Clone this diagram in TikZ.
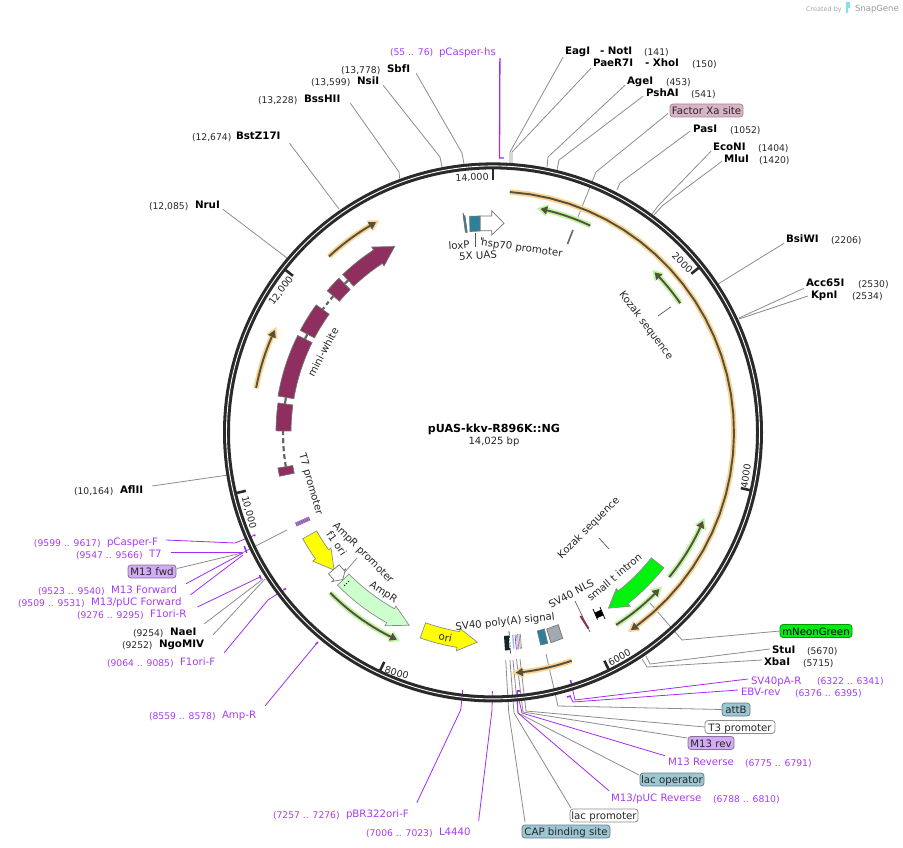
\documentclass[tikz,border=0pt]{standalone}
\usepackage{fontspec}
\setmainfont{DejaVu Sans}
\definecolor{ringc}{HTML}{2A2A2A}
\definecolor{graycon}{HTML}{8C8C8C}
\definecolor{purp}{HTML}{A63BF2}
\definecolor{purpl}{HTML}{A22CF0}
\definecolor{haloO}{HTML}{FBD490}
\definecolor{haloG}{HTML}{BFF5A0}
\definecolor{coreD}{HTML}{55503F}
\definecolor{maroon}{HTML}{8F2F60}
\definecolor{blueb}{HTML}{9CC6D2}
\definecolor{pinkb}{HTML}{D9B3C6}
\definecolor{purb}{HTML}{D3ABF2}
\definecolor{teal}{HTML}{2E7F9A}
\definecolor{grayb}{HTML}{A3A9B1}
\definecolor{yelb}{HTML}{FFFF00}
\tikzset{
 x=1pt,y=-1pt,
 every node/.style={inner sep=0pt,outer sep=0pt,text height=9.5pt,text depth=1pt},
 enzn/.style={anchor=west,font=\fontsize{10.3}{12}\selectfont\bfseries,text=black},
 posn/.style={anchor=west,font=\fontsize{9.2}{11}\selectfont,text=black!85},
 prim/.style={anchor=west,font=\fontsize{10.2}{12}\selectfont,text=purp},
 ppos/.style={anchor=west,font=\fontsize{9.2}{11}\selectfont,text=purp},
 lab/.style={font=\fontsize{10.2}{12}\selectfont,text=black!85},
 tickl/.style={font=\fontsize{9.5}{11}\selectfont,text=black!85},
 boxn/.style={font=\fontsize{10.2}{12}\selectfont,text=black!85,rounded corners=3pt,draw,minimum height=13pt,line width=.8pt},
 gc/.style={draw=graycon,line width=.8pt},
 pc/.style={draw=purpl,line width=.8pt},
 dc/.style={draw=black!65,line width=.7pt},
 feat/.style={draw=black!55,line width=.7pt},
 ptick/.style={draw=purpl,line width=1.6pt},
}
\newcommand\cona[5]{\coordinate (#2-bend) at (#4);\coordinate (#2-end) at (#5);\draw[#1] (#3) -- (#2-bend) -- (#2-end);}
\newcommand\conb[4]{\coordinate (#2-end) at (#4);\draw[#1] (#3) -- (#2-end);}
\newcommand\arcbox[5][]{\draw[feat,fill=maroon,#1] plot[domain=#2:#3,samples=12] ({\x-90}:#4) -- plot[domain=#3:#2,samples=12] ({\x-90}:#5) -- cycle;}
\newcommand\arcarr[4][]{\draw[feat,#1] plot[domain=#2:#3,samples=16] ({\x-90}:202) -- ({#3-90}:199) -- ({#4-90}:210.3) -- ({#3-90}:221.5) -- plot[domain=#3:#2,samples=16] ({\x-90}:218) -- cycle;}
\newcommand\band[4]{%
 \pgfmathsetmacro{\hb}{#3-2.6*sign(#3-#2)}%
 \pgfmathsetmacro{\hc}{#3-0.9*sign(#3-#2)}%
 \draw[line width=5.5pt,#1] plot[domain=#2:\hb,samples=30] ({\x-90}:#4);
 \fill[#1] ({\hb-90}:#4-6.2) -- ({#3-90}:#4) -- ({\hb-90}:#4+6.2) -- cycle;
 \draw[line width=1.9pt,coreD] plot[domain=#2:\hb,samples=30] ({\x-90}:#4);
 \fill[coreD] ({\hb-90}:#4-4.3) -- ({\hc-90}:#4) -- ({\hb-90}:#4+4.3) -- cycle;
}
\newcommand\tickm[2]{\draw[ringc,line width=2.6pt] ({#1-90}:#2) -- ({#1-90}:#2-10);}
\begin{document}
\begin{tikzpicture}
\useasboundingbox (0,0) rectangle (903,848);

% logo
\node[anchor=west,font=\fontsize{6.5}{8}\selectfont,text=black!35] (logoA) at (806,7) {Created by};
\node[anchor=west,font=\fontsize{8.5}{10}\selectfont,text=black!40] (logoB) at (855,7) {SnapGene};
\fill[blueb!70!cyan!80] (846,2) rectangle (850,8) (846,8) rectangle (848,13);

% ---- restriction sites, top / right
\node[enzn] (EagI) at (565,50) {EagI};
\node[enzn] (NotI) at (600,50) {- NotI};
\node[posn] (p141) at (644,51) {(141)};
\node[enzn] (PaeR) at (593,62) {PaeR7I};
\node[enzn] (XhoI) at (645,62) {- XhoI};
\node[posn] (p150) at (692,63) {(150)};
\node[enzn] (AgeI) at (627,80) {AgeI};
\node[posn] (p453) at (666,81) {(453)};
\node[enzn] (PshAI) at (646,92) {PshAI};
\node[posn] (p541) at (691,93) {(541)};
\node[boxn,fill=pinkb,draw=pinkb!75!black,minimum width=73pt] (FXa) at (706.5,110.5) {Factor Xa site};
\node[enzn] (PasI) at (693,128) {PasI};
\node[posn] (p1052) at (730,129) {(1052)};
\node[enzn] (EcoNI) at (713,146) {EcoNI};
\node[posn] (p1404) at (758,147) {(1404)};
\node[enzn] (MluI) at (724,158) {MluI};
\node[posn] (p1420) at (759,159) {(1420)};
\node[enzn] (BsiWI) at (786,238) {BsiWI};
\node[posn] (p2206) at (831,239) {(2206)};
\node[enzn] (Acc) at (806,282) {Acc65I};
\node[posn] (p2530) at (858,283) {(2530)};
\node[enzn] (KpnI) at (811,294) {KpnI};
\node[posn] (p2534) at (852,295) {(2534)};
\node[boxn,fill=green!93!blue,draw=green!60!black,minimum width=72pt,text=black] (mNG) at (816,631) {mNeonGreen};
\node[enzn] (StuI) at (772,649) {StuI};
\node[posn] (p5670) at (807,650) {(5670)};
\node[enzn] (XbaI) at (764,661) {XbaI};
\node[posn] (p5715) at (803,662) {(5715)};
\node[prim] (SVpA) at (751,680) {SV40pA-R};
\node[ppos] (pSVpA) at (817,680) {(6322 .. 6341)};
\node[prim] (EBV) at (741,691) {EBV-rev};
\node[ppos] (pEBV) at (795,692) {(6376 .. 6395)};
\node[boxn,fill=blueb,draw=blueb!65!black,minimum width=28pt] (attB) at (736,709.5) {attB};
\node[boxn,fill=white,draw=black!45,minimum width=70pt] (T3) at (740,727) {T3 promoter};
\node[boxn,fill=purb,draw=purb!65!black,minimum width=46pt] (M13r) at (711,743) {M13 rev};
\node[prim] (M13R) at (668,761) {M13 Reverse};
\node[ppos] (pM13R) at (745,762) {(6775 .. 6791)};
\node[boxn,fill=blueb,draw=blueb!65!black,minimum width=64pt] (lacO) at (672,779.5) {lac operator};
\node[prim] (M13pR) at (611,797) {M13/pUC Reverse};
\node[ppos] (pM13pR) at (713,798) {(6788 .. 6810)};
\node[boxn,fill=white,draw=black!45,minimum width=68pt] (lacP) at (604,815.5) {lac promoter};
\node[boxn,fill=blueb,draw=blueb!65!black,minimum width=88pt] (CAP) at (566,831.5) {CAP binding site};
\node[prim] (L4440) at (439,831) {L4440};
\node[ppos] (pL4440) at (366,832) {(7006 .. 7023)};
\node[prim] (pBRF) at (346,813) {pBR322ori-F};
\node[ppos] (ppBRF) at (273,814) {(7257 .. 7276)};
\node[prim] (AmpRp) at (222,714) {Amp-R};
\node[ppos] (pAmpRp) at (149,715) {(8559 .. 8578)};
\node[prim] (F1F) at (180,661) {F1ori-F};
\node[ppos] (pF1F) at (107,662) {(9064 .. 9085)};
\node[enzn] (Ngo) at (159,643) {NgoMIV};
\node[posn] (p9252) at (122,644) {(9252)};
\node[enzn] (NaeI) at (170,631) {NaeI};
\node[posn] (p9254) at (133,632) {(9254)};
\node[prim] (F1R) at (150,613) {F1ori-R};
\node[ppos] (pF1R) at (77,614) {(9276 .. 9295)};
\node[prim] (M13pF) at (91,601) {M13/pUC Forward};
\node[ppos] (pM13pF) at (18,602) {(9509 .. 9531)};
\node[prim] (M13F) at (111,589) {M13 Forward};
\node[ppos] (pM13F) at (38,590) {(9523 .. 9540)};
\node[boxn,fill=purb,draw=purb!65!black,minimum width=48pt] (M13f) at (152,571.5) {M13 fwd};
\node[prim] (T7p) at (149,553) {T7};
\node[ppos] (pT7p) at (76,554) {(9547 .. 9566)};
\node[prim] (pCF) at (107,541) {pCasper-F};
\node[ppos] (ppCF) at (34,542) {(9599 .. 9617)};
\node[enzn] (AflII) at (120,489) {AflII};
\node[posn] (p10164) at (74,490) {(10,164)};
\node[enzn] (NruI) at (195,204) {NruI};
\node[posn] (p12085) at (149,205) {(12,085)};
\node[enzn] (BstZ) at (236,135) {BstZ17I};
\node[posn] (p12674) at (192,136) {(12,674)};
\node[enzn] (BssH) at (304,98) {BssHII};
\node[posn] (p13228) at (258,99) {(13,228)};
\node[enzn] (NsiI) at (357,80) {NsiI};
\node[posn] (p13599) at (311,81) {(13,599)};
\node[enzn] (SbfI) at (387,68) {SbfI};
\node[posn] (p13778) at (341,69) {(13,778)};
\node[prim] (pCh) at (439,51) {pCasper-hs};
\node[ppos] (ppCh) at (390,51) {(55 .. 76)};

% ---- connectors
\cona{gc}{cEag}{[shift={(-2,2)}]EagI.south west}{510,152}{510,163}
\cona{gc}{cPae}{[shift={(-2,1)}]PaeR.south west}{512,152}{512,163}
\cona{gc}{cAge}{[shift={(-2,0)}]AgeI.south west}{548,157}{547,167}
\cona{gc}{cPsh}{[shift={(-3,-1)}]PshAI.south west}{559,160}{557,170}
\cona{gc}{cFXa}{[shift={(-2,3)}]FXa.west}{596,172}{578,217}
\cona{gc}{cPas}{[shift={(-3,-2)}]PasI.south west}{620,183}{617,190}
\cona{gc}{cEco}{[shift={(-2,0)}]EcoNI.south west}{658,206}{652,214}
\cona{gc}{cMlu}{[shift={(-2,-2)}]MluI.south west}{662,206}{654,215}
\conb{gc}{cBsi}{[shift={(-2,0)}]BsiWI.south west}{718,284}
\conb{gc}{cAcc}{[shift={(-2,1)}]Acc.south west}{739,318}
\conb{gc}{cKpn}{[shift={(-3,2)}]KpnI.west}{739,319}
\cona{gc}{cmNG}{mNG.west}{682,640}{650,603}
\cona{gc}{cStu}{[shift={(-2,0)}]StuI.west}{650,664}{646,656}
\cona{gc}{cXba}{[shift={(-2,-1)}]XbaI.west}{647,667}{642,659}
\cona{gc}{cattB}{attB.west}{558,706}{546,654}
\cona{gc}{cT3}{T3.west}{526,711}{520,659}
\cona{gc}{cM13r}{[shift={(-1,-5)}]M13r.west}{523,712}{516.5,659}
\cona{gc}{clacO}{[shift={(-1,2)}]lacO.north west}{518,713}{513,660}
\cona{gc}{clacP}{[shift={(1,-1)}]lacP.north west}{514,713}{510,660}
\cona{gc}{cCAP}{[shift={(3,-3)}]CAP.north west}{508.7,712}{505.7,660}
\cona{gc}{cM13f}{[shift={(1,-3)}]M13f.east}{242,553}{287,530}
\conb{gc}{cNae}{[shift={(8,-2)}]NaeI.north east}{263,579}
\conb{gc}{cNgo}{[shift={(9,-3)}]Ngo.north east}{265,579}
\conb{gc}{cAfl}{[shift={(9,-3)}]AflII.east}{228,475}
\conb{gc}{cNru}{[shift={(3,0)}]NruI.south east}{287,258}
\conb{gc}{cBst}{[shift={(9,3)}]BstZ.south east}{339,209}
\cona{gc}{cBss}{[shift={(10,0)}]BssH.south east}{399,172}{400,181}
\cona{gc}{cNsi}{[shift={(4,0)}]NsiI.south east}{440,157}{442,167}
\cona{gc}{cSbf}{[shift={(6,0)}]SbfI.south east}{462,153}{464,164}

\cona{pc,line width=1.3pt}{cpCh}{[shift={(4,2)}]pCh.south east}{499.5,158}{504,158}
\cona{pc}{cSV}{[shift={(-3,-1)}]SVpA.west}{575,700}{571,682}
\cona{pc}{cEB}{[shift={(-3,-1)}]EBV.west}{573,702}{570,696}
\cona{pc}{cM1}{[shift={(-3,0)}]M13R.north west}{522,713}{517,691}
\cona{pc}{cM2}{[shift={(-2,-1)}]M13pR.north west}{518,713}{517,691}
\cona{pc}{cL4}{[shift={(8,-5)}]L4440.north east}{492,710}{492.3,692}
\cona{pc}{cpB}{[shift={(8,-5)}]pBRF.north east}{460.7,710}{462.7,691}
\conb{pc}{cAm}{[shift={(9,-3)}]AmpRp.north east}{317,643}
\cona{pc}{cF1F}{[shift={(9,-3)}]F1F.north east}{268,600}{285,589}
\conb{pc}{cF1R}{[shift={(11,-6)}]F1R.east}{260,577}
\conb{pc}{cMpF}{[shift={(9,-1)}]M13pF.north east}{243,555}
\conb{pc}{cM1F}{[shift={(9,0)}]M13F.north east}{243,553}
\conb{pc}{cT7}{[shift={(9,-1)}]T7p.east}{242,552}
\cona{pc}{cpCF}{[shift={(8,-1)}]pCF.east}{235,543}{255,535}

% purple end marks
\draw[ptick] (516.5,691) -- (520,691);
\draw[ptick] (567,697) -- (571,696);
\draw[ptick] (570.6,680) -- (571,683);
\draw[ptick] (491.5,692) -- (493,692);
\draw[ptick] (462,691) -- (463.4,691);
\draw[ptick] (316,644) -- (318,642);
\draw[ptick] (284,589.5) -- (286,588.5);
\draw[ptick] (259.5,575) -- (261,579);
\draw[ptick] (244.3,546) -- (246.7,553);
\draw[ptick] (253.5,535) -- (255.5,535.7);

% ---- ring
\begin{scope}[shift={(493,432.4)}]
\draw[ringc,line width=7pt] (0,0) circle (266.5pt);
\draw[white,line width=.9pt] (0,0) circle (266.5pt);
\draw[ringc,line width=2.8pt] (0,-264.5) -- (0,-252);
\tickm{51.34}{264}
\tickm{102.67}{264}
\tickm{154}{264}
\tickm{205.35}{264}
\tickm{256.7}{264}
\tickm{308.05}{264}

% ---- orange / green bands
\band{haloO}{4}{146}{241}
\band{haloO}{161}{175.5}{241.5}
\band{haloO}{280.6}{296}{241}
\band{haloO}{317}{331.8}{240.5}
\band{haloG}{25.2}{11.1}{228.5}
\band{haloG}{55.4}{44.4}{227.5}
\band{haloG}{129.4}{112}{228}
\band{haloG}{147.4}{132.4}{228.5}
\band{haloG}{225.4}{204}{228.5}

% ---- mini-white
\draw[black!60,line width=2.2pt,dash pattern=on 5pt off 3pt] plot[domain=260.5:270.5,samples=8] ({\x-90}:210);
\draw[black!60,line width=2.2pt] plot[domain=277:280,samples=4] ({\x-90}:210);
\draw[black!60,line width=2.2pt] plot[domain=296:298.5,samples=4] ({\x-90}:210);
\draw[black!60,line width=2.2pt,dash pattern=on 4pt off 3pt] plot[domain=305.5:310.8,samples=6] ({\x-90}:210);
\draw[black!60,line width=2.2pt] plot[domain=314.5:316.8,samples=4] ({\x-90}:210);
\arcbox{258.4}{260.6}{203}{218}
\arcbox{270.4}{277.8}{202}{217}
\arcbox{279.6}{296.4}{202}{218}
\arcbox{297.9}{305.8}{202}{218}
\arcbox{310.5}{315}{202}{218}
\arcarr[fill=maroon]{316.4}{326.8}{332.1}
\arcarr[fill=green!20,draw=black!45]{225.5}{209.2}{203.5}
\arcarr[fill=yelb,draw=black!45]{240.8}{234.5}{229.1}
\arcarr[fill=yelb,draw=black!45]{199.5}{189.5}{184.3}
\arcarr[fill=green!95!blue,draw=black!45]{128.4}{141.7}{146.7}
\draw[feat,fill=white] plot[domain=229.3:227.2,samples=4] ({\x-90}:203) -- ({227.2-90}:201) -- ({225.6-90}:210.3) -- ({227.2-90}:219.5) -- plot[domain=227.2:229.3,samples=4] ({\x-90}:217) -- cycle;
\end{scope}

% dots in AmpR tail
\fill[black] (344.7,585.3) circle (.7pt) (346.5,583.5) circle (.7pt) (348.5,581.5) circle (.7pt);

% Factor Xa stub, feature connectors
\coordinate (sXa1) at (573,230);\coordinate (sXa2) at (567.5,244);
\draw[black!60,line width=1.6pt] (sXa1) -- (sXa2);
\coordinate (cPr1) at (345,572);\coordinate (cPr2) at (357,558);
\draw[gc] (cPr1) -- (cPr2);

% M13 fwd feature
\coordinate (m1) at (296,524.5);\coordinate (m2) at (309.5,518.5);
\draw[purpl!70,line width=4pt] (m1) -- (m2);
\draw[black!55,line width=4pt,dash pattern=on .8pt off 1.2pt] (m1) -- (m2);

% top-left cassette
\draw[feat,fill=white] (480,216) -- (491.7,216) -- (491.7,210.7) -- (504,223.3) -- (491.7,235) -- (491.7,230.7) -- (480,230.7) -- cycle;
\draw[feat,fill=teal] (469.6,216.3) -- (480,216) -- (480,231) -- (470,231.5) -- cycle;
\draw[black!70,line width=.8pt] (463,213) -- (467,233);
\draw[feat,fill=teal] (463.2,216) -- (465,215.7) -- (467.2,232) -- (465.4,232.3) -- cycle;
\draw[dc] (475.7,233) -- (475.7,247);
\draw[dc] (481,237) -- (481,240);

% SV40 poly(A) stack
\draw[black!65,line width=.8pt] (509,631) -- (510.5,653.5);
\fill[black!70!teal] (504,636) -- (509,635.5) -- (510,650) -- (505,650.5) -- cycle;
\fill[white] (509,638) -- (511.5,638) -- (512,648) -- (509.5,648) -- cycle;
\fill[black!70] (509.5,640) circle (.6pt) (510,643) circle (.6pt) (510.3,646) circle (.6pt);
\draw[blueb,line width=1.4pt] (512.7,634.5) -- (513.8,648.5);
\draw[purpl,line width=.7pt] (515,634.5) -- (516.4,649.5);
\draw[purpl!50,line width=.7pt] (516.3,634.5) -- (517.6,649.5);
\draw[black!45,line width=.7pt] (517.5,634) -- (518.8,649);
\draw[black!45,line width=.7pt] (519,634) -- (520.3,649);
\draw[black!45,line width=.7pt] (520.3,634) -- (521.5,648.5);

% blue + gray boxes
\draw[feat,fill=teal] (537.3,631) -- (544.3,629) -- (547.7,643.3) -- (540.7,645) -- cycle;
\draw[feat,fill=grayb] (546.7,629) -- (558.3,624.7) -- (562.7,638.3) -- (551,642.7) -- cycle;

% SV40 NLS sliver
\draw[black!60,line width=.7pt] (575,601) -- (590,632);
\draw[maroon,line width=2pt] (580.5,616) -- (588.5,628.5);

% small t intron
\draw[black,line width=.8pt] (593,609) -- (597.5,619.5);
\draw[black,line width=.8pt] (600,607) -- (605,619);
\fill[black,rotate around={25:(599,614)}] (595.5,611) rectangle (602.5,617);

% Kozak connectors
\draw[dc] (658,316) -- (670.7,307);
\draw[dc] (599,538) -- (609,549);

% ---- tick labels
\node[tickl,rotate=3] (t14) at (472,176.5) {14,000};
\node[tickl,rotate=-45] (t2) at (683,262) {2000};
\node[tickl,rotate=82] (t4) at (745,476) {4000};
\node[tickl,rotate=30] (t6) at (619,657) {6000};
\node[tickl,rotate=-17] (t8) at (397,672) {8000};
\node[tickl,rotate=-75] (t10) at (250,512) {10,000};
\node[tickl,rotate=53] (t12) at (280,290) {12,000};

% ---- feature labels
\node[lab,rotate=62] (lMW) at (322.7,351.7) {mini-white};
\node[lab,rotate=-74] (lT7) at (312,484) {T7 promoter};
\node[lab,rotate=-55] (lF1) at (337,543) {f1 ori};
\node[lab,rotate=-45] (lAP) at (364,552) {AmpR promoter};
\node[lab,rotate=-33] (lA) at (384,591) {AmpR};
\node[lab,rotate=-12] (lO) at (445.5,637) {ori};
\node[lab,rotate=6] (lSV) at (505,620.7) {SV40 poly(A) signal};
\node[lab,rotate=28] (lNLS) at (571,593) {SV40 NLS};
\node[lab,rotate=40] (lst) at (614,577) {small t intron};
\node[lab,rotate=45] (lK2) at (588,527) {Kozak sequence};
\node[lab,rotate=-53] (lK1) at (647,325) {Kozak sequence};
\node[lab,rotate=-8] (lH) at (522,247) {hsp70 promoter};
\node[lab,rotate=4] (lL) at (459,245) {loxP};
\node[lab,rotate=3] (lU) at (478,255) {5X UAS};

% ---- centre
\node[font=\fontsize{11.1}{13}\selectfont\bfseries] (title) at (494,428) {pUAS-kkv-R896K::NG};
\node[font=\fontsize{10}{12}\selectfont,text=black!85] (bp) at (494,440) {14,025 bp};
\end{tikzpicture}
\end{document}
